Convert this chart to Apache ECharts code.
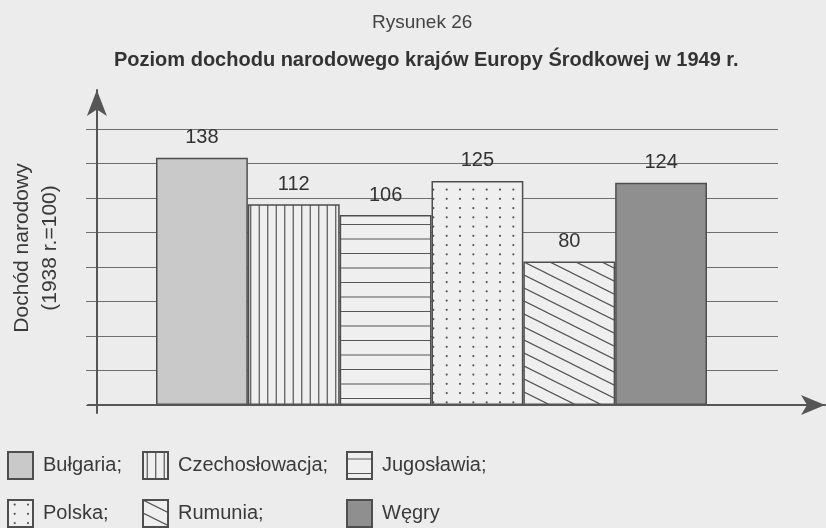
<!DOCTYPE html>
<html>
<head>
<meta charset="utf-8">
<title>Rysunek 26</title>
<script src="https://cdn.jsdelivr.net/npm/echarts/dist/echarts.min.js"></script>
<style>
  html, body { margin: 0; padding: 0; background: #ececec; }
  #chart { width: 826px; height: 528px; }
</style>
</head>
<body>
<div id="chart"></div>
<script>
// dane
const countries = ["Bułgaria", "Czechosłowacja", "Jugosławia", "Polska", "Rumunia", "Węgry"];
const values = [138, 112, 106, 125, 80, 124];
const yMax = 154;
const yStep = 19.25;
const patterns = ["gray", "vertical", "horizontal", "dots", "diagonal", "dark"];

const BG = "#ececec";
const INK = "#565656";
const FONT = "'Liberation Sans', Arial, Helvetica, sans-serif";

// wypelnienia slupkow rysowane na malym canvasie
function makePattern(kind) {
    if (kind === "gray") return "#c9c9c9";
    if (kind === "dark") return "#8f8f8f";
    const c = document.createElement("canvas");
    let w = 17, h = 4;
    if (kind === "horizontal") { w = 4; h = 29; }
    if (kind === "dots") { w = 40; h = 37; }
    if (kind === "diagonal") { w = 26; h = 13; }
    c.width = w;
    c.height = h;
    const ctx = c.getContext("2d");
    ctx.fillStyle = "#efefef";
    ctx.fillRect(0, 0, w, h);
    ctx.strokeStyle = INK;
    ctx.fillStyle = INK;
    ctx.lineWidth = 1.2;
    ctx.beginPath();
    if (kind === "vertical") {
        [4.25, 12.75].forEach(x => { ctx.moveTo(x, 0); ctx.lineTo(x, h); });
    } else if (kind === "horizontal") {
        [7, 21.5].forEach(y => { ctx.moveTo(0, y); ctx.lineTo(w, y); });
    } else if (kind === "diagonal") {
        for (let k = -2; k <= 2; k++) {
            ctx.moveTo(-w, -h + k * h);
            ctx.lineTo(2 * w, 2 * h + k * h);
        }
    }
    ctx.stroke();
    if (kind === "dots") {
        for (let i = 0; i < 3; i++) {
            for (let j = 0; j < 4; j++) {
                ctx.beginPath();
                ctx.arc(6.7 + i * 13.33, 4.6 + j * 9.25, 1.1, 0, Math.PI * 2);
                ctx.fill();
            }
        }
    }
    return { image: c, repeat: "repeat" };
}

const hidden = {
    axisLine: { show: false },
    axisTick: { show: false },
    axisLabel: { show: false },
    splitLine: { show: false }
};

const series = countries.map((name, i) => ({
    type: "bar",
    name: name,
    xAxisIndex: 2,
    yAxisIndex: 2,
    data: values.map((v, j) => (j === i ? v : "-")),
    barGap: "-100%",
    barCategoryGap: 0,
    itemStyle: {
        color: makePattern(patterns[i]),
        borderColor: "#4e4e4e",
        borderWidth: 1.5
    },
    label: {
        show: true,
        position: "top",
        distance: 10,
        fontFamily: FONT,
        fontSize: 20,
        color: "#333"
    }
}));

function legendFor(names, left) {
    return {
        data: names,
        orient: "vertical",
        left: left,
        top: 451,
        padding: 0,
        icon: "rect",
        itemWidth: 25,
        itemHeight: 27,
        itemGap: 19,
        selectedMode: false,
        formatter: n => (n === "Węgry" ? n : n + ";"),
        textStyle: { fontFamily: FONT, fontSize: 20, color: "#3a3a3a", padding: [0, 0, 0, 5] }
    };
}

const chart = echarts.init(document.getElementById("chart"));
chart.setOption({
    backgroundColor: BG,
    animation: false,
    title: [
        {
            text: "Rysunek 26",
            left: 367,
            top: 8,
            textStyle: { fontFamily: FONT, fontSize: 19, fontWeight: "normal", color: "#444" }
        },
        {
            text: "Poziom dochodu narodowego krajów Europy Środkowej w 1949 r.",
            left: 109,
            top: 45,
            textStyle: { fontFamily: FONT, fontSize: 20, fontWeight: "bold", color: "#333" }
        }
    ],
    legend: [
        legendFor([countries[0], countries[3]], 7),
        legendFor([countries[1], countries[4]], 142),
        legendFor([countries[2], countries[5]], 346)
    ],
    grid: [
        // osie ze strzalkami
        { left: 77, right: 1, top: 90, bottom: 115 },
        // linie siatki
        { left: 86, right: 48, top: 129, bottom: 123 },
        // slupki
        { left: 156, right: 119, top: 129, bottom: 123 }
    ],
    xAxis: [
        {
            gridIndex: 0, type: "value", min: -9, max: 739, z: 10,
            axisLine: { show: true, onZero: true, symbol: ["none", "arrow"], symbolSize: [15, 24],
                lineStyle: { color: INK, width: 2 } },
            axisTick: { show: false }, axisLabel: { show: false }, splitLine: { show: false }
        },
        Object.assign({ gridIndex: 1, type: "value", min: 0, max: 1 }, hidden),
        Object.assign({ gridIndex: 2, type: "category", data: countries }, hidden)
    ],
    yAxis: [
        {
            gridIndex: 0, type: "value", min: -8, max: 315, z: 10,
            name: "Dochód narodowy\n(1938 r.=100)",
            nameLocation: "middle",
            nameRotate: 90,
            nameGap: 24,
            nameTextStyle: { fontFamily: FONT, fontSize: 21, color: "#3a3a3a", lineHeight: 28, padding: [0, 0, 0, 7] },
            axisLine: { show: true, onZero: true, symbol: ["none", "arrow"], symbolSize: [15, 26],
                lineStyle: { color: INK, width: 2 } },
            axisTick: { show: false }, axisLabel: { show: false }, splitLine: { show: false }
        },
        {
            gridIndex: 1, type: "value", min: 0, max: yMax, interval: yStep,
            axisLine: { show: false }, axisTick: { show: false }, axisLabel: { show: false },
            splitLine: { show: true, lineStyle: { color: "#6e6e6e", width: 1.2 } }
        },
        Object.assign({ gridIndex: 2, type: "value", min: 0, max: yMax }, hidden)
    ],
    series: series
});
</script>
</body>
</html>
